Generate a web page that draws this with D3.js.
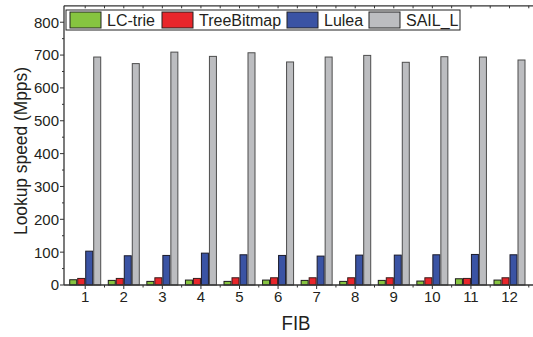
<!DOCTYPE html>
<html>
<head>
<meta charset="utf-8">
<script src="https://cdn.jsdelivr.net/npm/d3@7"></script>
<style>
  body { margin: 0; background: #fff; }
  text { font-family: "Liberation Sans", Arial, sans-serif; fill: #231f20; }
</style>
</head>
<body>
<div id="chart"></div>
<script>
const fibs = [1, 2, 3, 4, 5, 6, 7, 8, 9, 10, 11, 12];
const seriesNames = ['LC-trie', 'TreeBitmap', 'Lulea', 'SAIL_L'];
const lcTrie = [16, 14, 11, 15, 11, 15, 14, 11, 14, 12, 19, 15];
const treeBitmap = [20, 20, 22, 20, 22, 22, 22, 22, 22, 22, 20, 22];
const lulea = [103, 89, 90, 97, 92, 90, 88, 91, 91, 92, 93, 92];
const sailL = [694, 674, 709, 696, 707, 679, 694, 699, 678, 695, 694, 685];
const yTicks = [0, 100, 200, 300, 400, 500, 600, 700, 800];

const colors = ['#86c440', '#e8262b', '#3a53a4', '#bcbdc0'];
const strokes = ['#1a1a1a', '#3a1a1a', '#1a1a2a', '#4d4d4d'];
const allSeries = [lcTrie, treeBitmap, lulea, sailL];

const width = 533, height = 337;
const svg = d3.select('#chart').append('svg')
  .attr('width', width).attr('height', height);

const x = d3.scaleLinear().domain([0.45, 12.7]).range([64, 536.5]);
const y = d3.scaleLinear().domain([0, 850]).range([285, 5.8]);
const inner = d3.scaleBand().domain(seriesNames).range([-16, 16]);

// bars
seriesNames.forEach((name, s) => {
  svg.append('g').selectAll('rect')
    .data(fibs)
    .enter().append('rect')
    .attr('x', (d, i) => x(d) + inner(name) + 0.5)
    .attr('y', (d, i) => y(allSeries[s][i]))
    .attr('width', inner.bandwidth() - 1)
    .attr('height', (d, i) => y(0) - y(allSeries[s][i]))
    .attr('fill', colors[s])
    .attr('stroke', strokes[s])
    .attr('stroke-width', 1);
});

// frame (left, bottom, top)
const axisColor = '#333';
svg.append('line').attr('x1', 64).attr('x2', 64).attr('y1', y(850)).attr('y2', y(0))
  .attr('stroke', axisColor).attr('stroke-width', 1.3);
svg.append('line').attr('x1', 64).attr('x2', width).attr('y1', y(0)).attr('y2', y(0))
  .attr('stroke', axisColor).attr('stroke-width', 1.3);
svg.append('line').attr('x1', 64).attr('x2', width).attr('y1', y(850)).attr('y2', y(850))
  .attr('stroke', axisColor).attr('stroke-width', 1.3);

// y axis
const yAxis = svg.append('g');
yAxis.selectAll('line.major').data(yTicks).enter().append('line')
  .attr('x1', 60).attr('x2', 64).attr('y1', d => y(d)).attr('y2', d => y(d))
  .attr('stroke', axisColor);
yAxis.selectAll('line.minor').data(d3.range(50, 850, 100)).enter().append('line')
  .attr('x1', 62).attr('x2', 64).attr('y1', d => y(d)).attr('y2', d => y(d))
  .attr('stroke', axisColor);
yAxis.selectAll('text').data(yTicks).enter().append('text')
  .attr('x', 59).attr('y', d => y(d)).attr('dy', '0.36em')
  .attr('text-anchor', 'end').style('font-size', '15px')
  .text(d => d);

// x axis
const xAxis = svg.append('g');
xAxis.selectAll('line.major').data(fibs).enter().append('line')
  .attr('x1', d => x(d)).attr('x2', d => x(d)).attr('y1', y(0)).attr('y2', y(0) + 4)
  .attr('stroke', axisColor);
xAxis.selectAll('line.minor').data(fibs).enter().append('line')
  .attr('x1', d => x(d + 0.5)).attr('x2', d => x(d + 0.5)).attr('y1', y(0)).attr('y2', y(0) + 2.5)
  .attr('stroke', axisColor);
xAxis.selectAll('text').data(fibs).enter().append('text')
  .attr('x', d => x(d)).attr('y', 302)
  .attr('text-anchor', 'middle').style('font-size', '15px')
  .text(d => d);

// top ticks
svg.append('g').selectAll('line').data(d3.range(1, 13, 0.5)).enter().append('line')
  .attr('x1', d => x(d)).attr('x2', d => x(d)).attr('y1', y(850)).attr('y2', y(850) + 2.5)
  .attr('stroke', axisColor);

// axis titles
svg.append('text')
  .attr('transform', 'translate(27, 151) rotate(-90)')
  .attr('text-anchor', 'middle').style('font-size', '19px')
  .attr('textLength', 168).attr('lengthAdjust', 'spacingAndGlyphs')
  .text('Lookup speed (Mpps)');
svg.append('text')
  .attr('x', 296).attr('y', 330)
  .attr('text-anchor', 'middle').style('font-size', '20px')
  .attr('textLength', 29).attr('lengthAdjust', 'spacingAndGlyphs')
  .text('FIB');

// legend
const legend = svg.append('g');
legend.append('rect').attr('x', 66).attr('y', 10).attr('width', 394).attr('height', 20)
  .attr('fill', '#fff').attr('stroke', '#222').attr('stroke-width', 1);
const legendX = [70, 162, 287, 369];
seriesNames.forEach((name, s) => {
  legend.append('rect')
    .attr('x', legendX[s]).attr('y', 12).attr('width', 31).attr('height', 16)
    .attr('fill', colors[s]).attr('stroke', '#222');
  legend.append('text')
    .attr('x', legendX[s] + 37).attr('y', 26)
    .style('font-size', '16px')
    .text(name);
});
</script>
</body>
</html>
